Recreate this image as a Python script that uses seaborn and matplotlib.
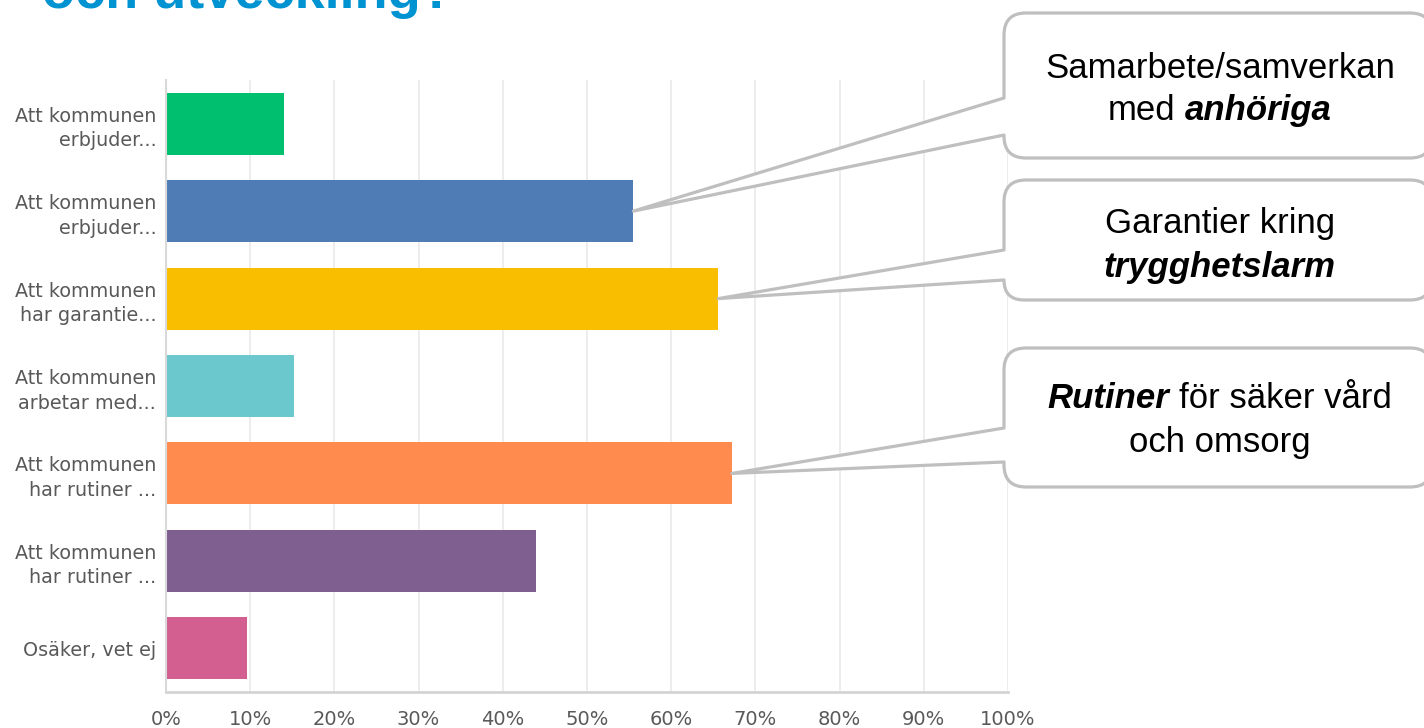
import matplotlib
matplotlib.use("Agg")
import matplotlib.pyplot as plt
import seaborn as sns
import pandas as pd
from matplotlib.path import Path
from matplotlib.patches import PathPatch

# ---------------- data ----------------
categories = [
    "Att kommunen\nerbjuder...",
    "Att kommunen\nerbjuder...",
    "Att kommunen\nhar garantie...",
    "Att kommunen\narbetar med...",
    "Att kommunen\nhar rutiner ...",
    "Att kommunen\nhar rutiner ...",
    "Osäker, vet ej",
]
values = [14.0, 55.5, 65.6, 15.2, 67.2, 43.9, 9.6]
colors = ["#00bf6f", "#507cb6", "#f9be00", "#6bc8cd", "#ff8b4f", "#7f5f8f", "#d25f90"]
xticks = list(range(0, 101, 10))
xtick_labels = [f"{v}%" for v in xticks]
title = "och utveckling?"

# callout texts: list of lines, each line a list of (text, bold_italic)
callout_bars = [1, 2, 4]
callout_lines = [
    [[("Samarbete/samverkan", False)], [("med", False), ("anhöriga", True)]],
    [[("Garantier kring", False)], [("trygghetslarm", True)]],
    [[("Rutiner", True), ("för säker vård", False)], [("och omsorg", False)]],
]

# ---------------- figure ----------------
sns.set_theme(style="white")
plt.rcParams["font.family"] = ["DejaVu Sans"]

W, H = 1424, 728
fig = plt.figure(figsize=(W / 100, H / 100), dpi=100)
fig.patch.set_facecolor("white")
ax = fig.add_axes([166 / W, 1 - 692 / H, (1008 - 166) / W, (692 - 80) / H])

keys = [f"k{i}" for i in range(len(values))]
df = pd.DataFrame({"key": keys, "value": values})
sns.barplot(data=df, x="value", y="key", hue="key", palette=colors, order=keys,
            hue_order=keys, orient="h", width=0.71, saturation=1, legend=False,
            ax=ax, linewidth=0)

ax.set_xlim(0, 100)
ax.set_ylim(len(values) - 0.5, -0.5)
ax.set_xticks(xticks)
ax.set_xticklabels(xtick_labels)
ax.set_yticks(range(len(keys)))
ax.set_yticklabels(categories, linespacing=1.37)
ax.set_xlabel("")
ax.set_ylabel("")
ax.tick_params(axis="both", length=0, labelcolor="#595959")
ax.tick_params(axis="x", pad=13, labelsize=14)
ax.tick_params(axis="y", pad=7, labelsize=13.8)
ax.grid(axis="x", color="#ececec", lw=1.3)
ax.grid(axis="y", visible=False)
ax.set_axisbelow(True)
for s in ["top", "right"]:
    ax.spines[s].set_visible(False)
ax.spines["left"].set_color("#d9d9d9")
ax.spines["left"].set_linewidth(1.5)
ax.spines["bottom"].set_color("#d4d4d4")
ax.spines["bottom"].set_linewidth(2)

# ---------------- title (cut at top, as in the reference) ----------------
fig.text(42 / W, 1 - 8 / H, title, fontsize=39, fontweight="bold", color="#0093d1",
         family=["Liberation Sans", "DejaVu Sans"], va="baseline", ha="left")


# ---------------- callouts ----------------
def fx(x, y):
    return (x / W, 1 - y / H)


def callout(tip, left, right, top, bottom, b1, b2, r=22):
    r_bl = min(r, bottom - b2)
    verts = [tip, (left, b1), (left, top + r), (left, top), (left + r, top),
             (right - r, top), (right, top), (right, top + r),
             (right, bottom - r), (right, bottom), (right - r, bottom),
             (left + r_bl, bottom), (left, bottom), (left, bottom - r_bl),
             (left, b2), tip, tip]
    codes = [Path.MOVETO, Path.LINETO, Path.LINETO, Path.CURVE3, Path.CURVE3,
             Path.LINETO, Path.CURVE3, Path.CURVE3,
             Path.LINETO, Path.CURVE3, Path.CURVE3,
             Path.LINETO, Path.CURVE3, Path.CURVE3,
             Path.LINETO, Path.LINETO, Path.CLOSEPOLY]
    path = Path([fx(*v) for v in verts], codes)
    patch = PathPatch(path, facecolor="white", edgecolor="#bfbfbf", lw=2.3,
                      transform=fig.transFigure, zorder=2, joinstyle="round")
    fig.add_artist(patch)


renderer = fig.canvas.get_renderer()
FS = 25
space_px = 0.278 * FS * 100 / 72


def rich_line(parts, cx, by):
    texts = []
    widths = []
    for s, bi in parts:
        t = fig.text(0, 0, s, fontsize=FS, family=["Liberation Sans", "DejaVu Sans"],
                     fontweight="bold" if bi else "normal",
                     fontstyle="italic" if bi else "normal",
                     color="black", va="baseline", ha="left", zorder=3)
        texts.append(t)
        widths.append(t.get_window_extent(renderer).width)
    total = sum(widths) + space_px * (len(parts) - 1)
    x = cx - total / 2
    for t, w in zip(texts, widths):
        t.set_position(fx(x, by))
        x += w + space_px


boxes = [
    dict(top=13, bottom=158, b1=98, b2=135, baselines=(78, 120)),
    dict(top=180, bottom=300, b1=250, b2=280, baselines=(233, 277)),
    dict(top=348, bottom=487, b1=428, b2=462, baselines=(408, 452)),
]

for bar_i, lines, b in zip(callout_bars, callout_lines, boxes):
    dx, dy = ax.transData.transform((values[bar_i], bar_i))
    tip = (dx, H - dy)
    callout(tip, 1004, 1432, b["top"], b["bottom"], b["b1"], b["b2"])
    for parts, by in zip(lines, b["baselines"]):
        rich_line(parts, 1220, by)

fig.savefig("out.png", dpi=100, facecolor="white")
